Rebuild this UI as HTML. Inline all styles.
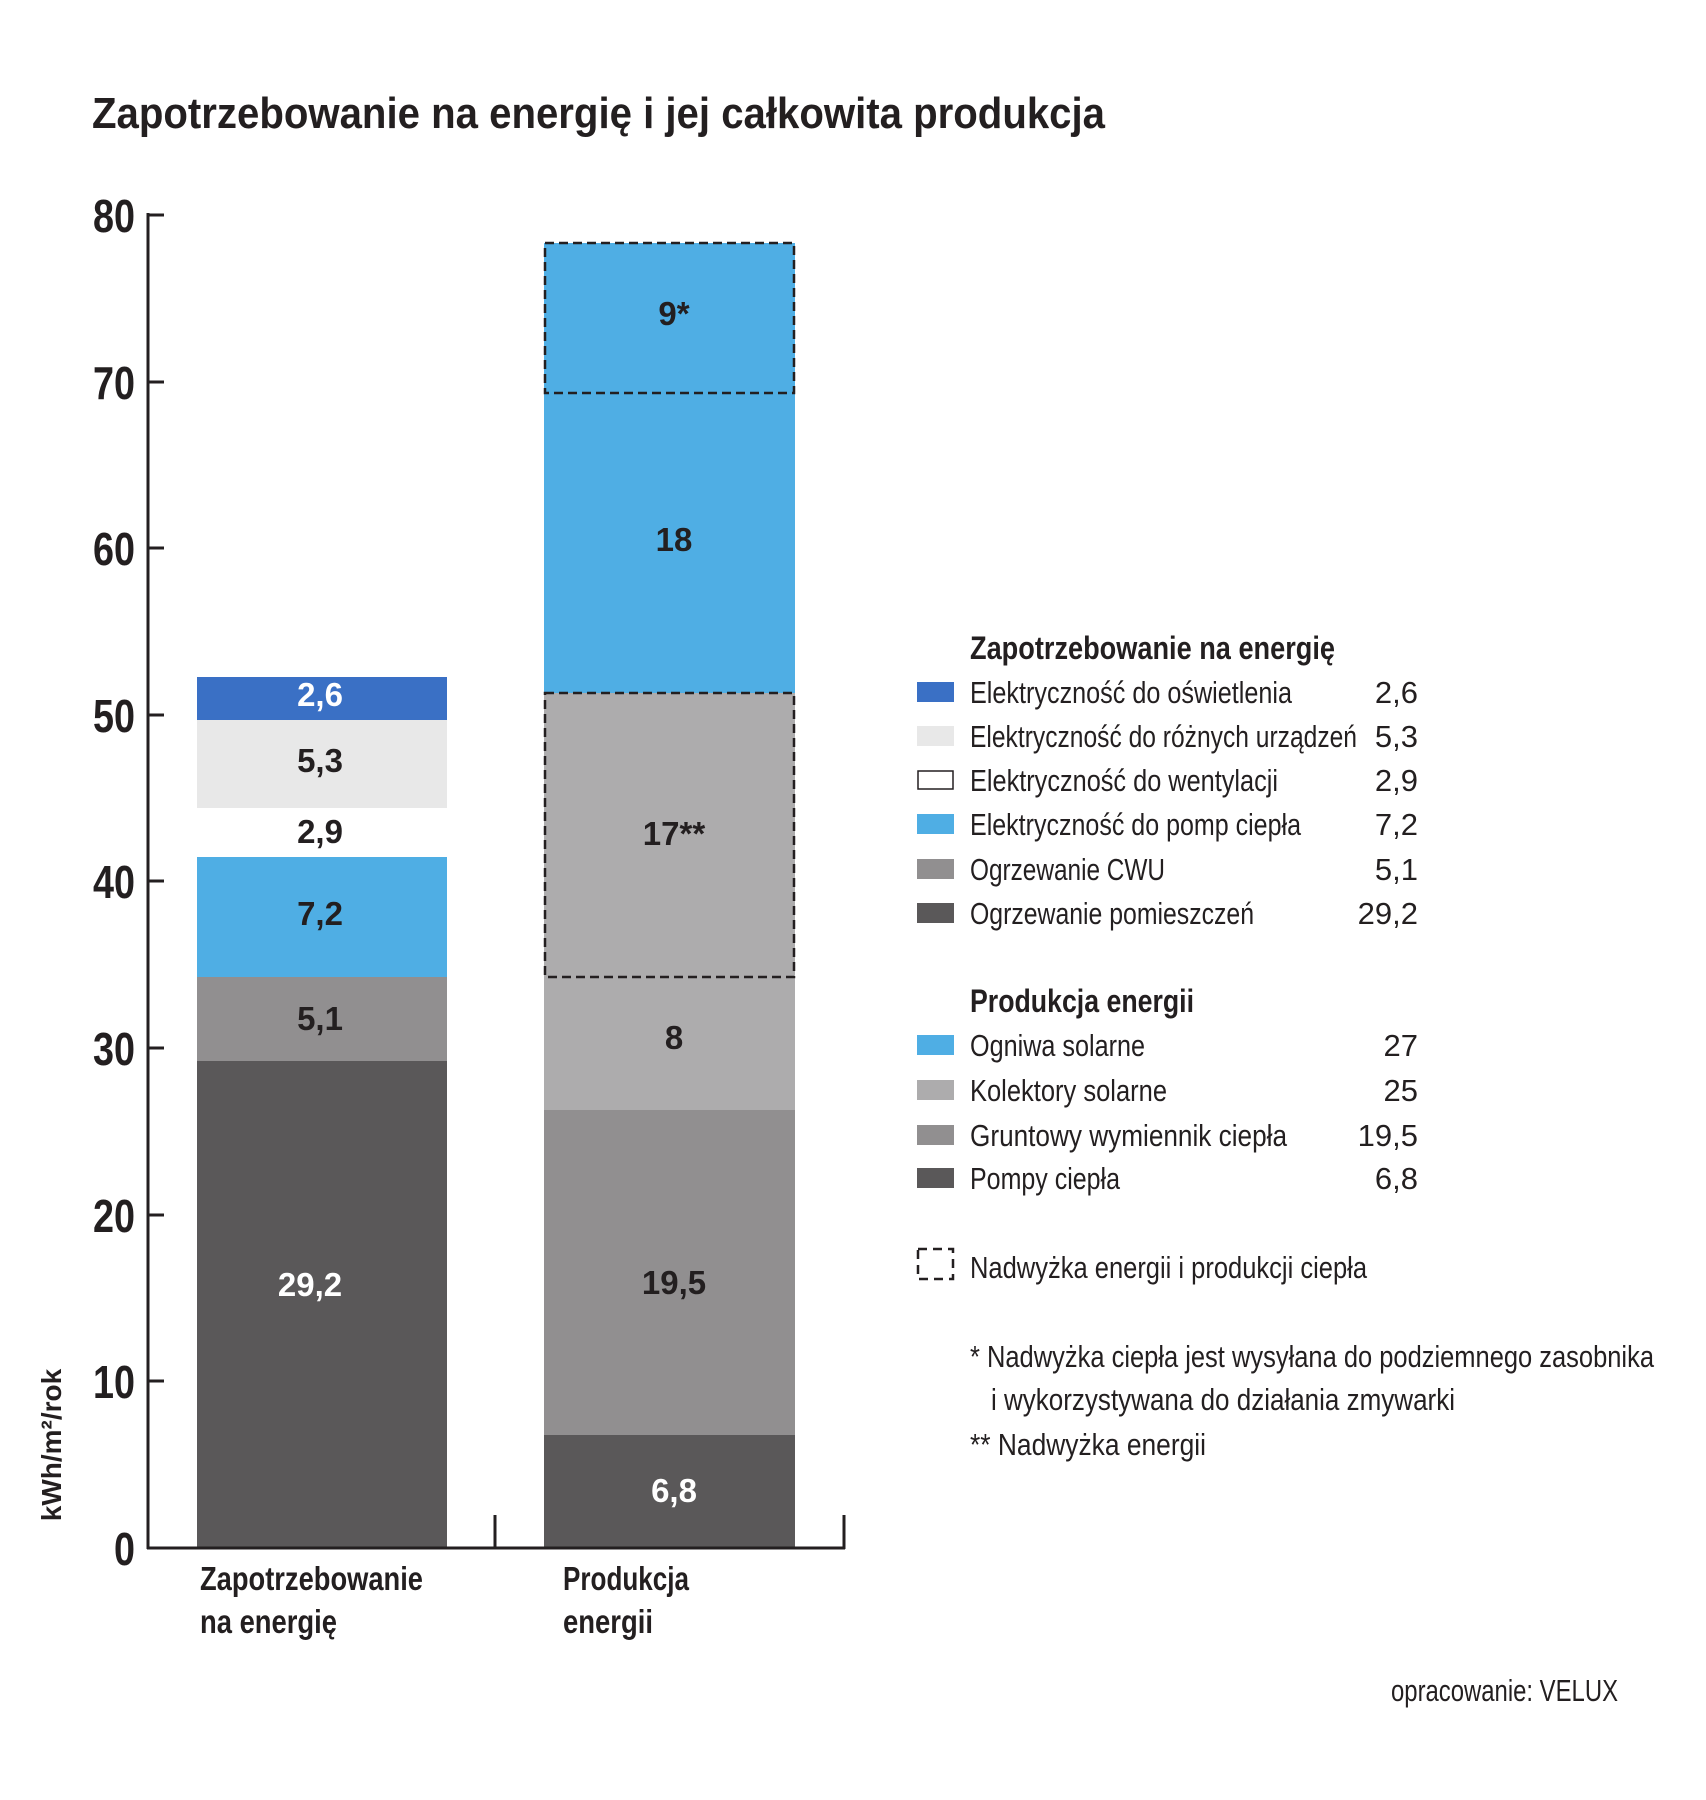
<!DOCTYPE html>
<html><head><meta charset="utf-8"><style>
html,body{margin:0;padding:0;background:#fff;}
svg{display:block;}
text{font-family:"Liberation Sans Narrow","Liberation Sans",sans-serif;fill:#231f20;}
.b{font-weight:bold;}
</style></head><body>
<svg width="1706" height="1800" viewBox="0 0 1706 1800" xmlns="http://www.w3.org/2000/svg">
<text class="b" x="92" y="128" font-size="44" textLength="1013" lengthAdjust="spacingAndGlyphs">Zapotrzebowanie na energię i jej całkowita produkcja</text>

<!-- bars left -->
<rect x="197" y="1061" width="250" height="487" fill="#5a5859"/>
<rect x="197" y="977" width="250" height="84" fill="#918f90"/>
<rect x="197" y="857" width="250" height="120" fill="#4faee4"/>
<rect x="197" y="720" width="250" height="88" fill="#e8e8e8"/>
<rect x="197" y="677" width="250" height="43" fill="#3a70c5"/>
<!-- bars right -->
<rect x="544" y="1435" width="251" height="113" fill="#5a5859"/>
<rect x="544" y="1110" width="251" height="325" fill="#918f90"/>
<rect x="544" y="693" width="251" height="417" fill="#adacad"/>
<rect x="544" y="243" width="251" height="450" fill="#4faee4"/>
<rect x="545" y="243" width="249" height="150" fill="none" stroke="#231f20" stroke-width="2.5" stroke-dasharray="9,5"/>
<rect x="545" y="693" width="249" height="284" fill="none" stroke="#231f20" stroke-width="2.5" stroke-dasharray="9,5"/>

<!-- axes -->
<g stroke="#231f20" stroke-width="3" fill="none">
<line x1="148" y1="213" x2="148" y2="1549"/>
<line x1="147" y1="1548" x2="845" y2="1548"/>
<line x1="495" y1="1515" x2="495" y2="1549"/>
<line x1="844" y1="1515" x2="844" y2="1549"/>
<line x1="147" y1="215" x2="164" y2="215"/>
<line x1="147" y1="382" x2="164" y2="382"/>
<line x1="147" y1="548" x2="164" y2="548"/>
<line x1="147" y1="715" x2="164" y2="715"/>
<line x1="147" y1="881" x2="164" y2="881"/>
<line x1="147" y1="1048" x2="164" y2="1048"/>
<line x1="147" y1="1215" x2="164" y2="1215"/>
<line x1="147" y1="1381" x2="164" y2="1381"/>
</g>
<g font-size="46">
<text class="b" x="93" y="232" textLength="42" lengthAdjust="spacingAndGlyphs">80</text>
<text class="b" x="93" y="399" textLength="42" lengthAdjust="spacingAndGlyphs">70</text>
<text class="b" x="93" y="565" textLength="42" lengthAdjust="spacingAndGlyphs">60</text>
<text class="b" x="93" y="732" textLength="42" lengthAdjust="spacingAndGlyphs">50</text>
<text class="b" x="93" y="898" textLength="42" lengthAdjust="spacingAndGlyphs">40</text>
<text class="b" x="93" y="1065" textLength="42" lengthAdjust="spacingAndGlyphs">30</text>
<text class="b" x="93" y="1232" textLength="42" lengthAdjust="spacingAndGlyphs">20</text>
<text class="b" x="93" y="1398" textLength="42" lengthAdjust="spacingAndGlyphs">10</text>
<text class="b" x="114" y="1565" textLength="21" lengthAdjust="spacingAndGlyphs">0</text>
</g>
<text class="b" font-size="28" text-anchor="middle" transform="translate(61,1445) rotate(-90)">kWh/m²/rok</text>

<!-- bar labels -->
<g class="b" font-size="33" text-anchor="middle">
<text class="b" x="310" y="1296" style="fill:#fff">29,2</text>
<text class="b" x="320" y="1030">5,1</text>
<text class="b" x="320" y="925">7,2</text>
<text class="b" x="320" y="843">2,9</text>
<text class="b" x="320" y="772">5,3</text>
<text class="b" x="320" y="706" style="fill:#fff">2,6</text>
<text class="b" x="674" y="1502" style="fill:#fff">6,8</text>
<text class="b" x="674" y="1294">19,5</text>
<text class="b" x="674" y="1049">8</text>
<text class="b" x="674" y="845">17**</text>
<text class="b" x="674" y="551">18</text>
<text class="b" x="674" y="325">9*</text>
</g>

<!-- categories -->
<g class="b" font-size="33">
<text class="b" x="200" y="1590" textLength="223" lengthAdjust="spacingAndGlyphs">Zapotrzebowanie</text>
<text class="b" x="200" y="1633" textLength="137" lengthAdjust="spacingAndGlyphs">na energię</text>
<text class="b" x="563" y="1590" textLength="126" lengthAdjust="spacingAndGlyphs">Produkcja</text>
<text class="b" x="563" y="1633" textLength="90" lengthAdjust="spacingAndGlyphs">energii</text>
</g>

<!-- legend -->
<text class="b" x="970" y="659" font-size="32" textLength="365" lengthAdjust="spacingAndGlyphs">Zapotrzebowanie na energię</text>
<rect x="917" y="682" width="37" height="20" fill="#3a70c5"/>
<rect x="917" y="726" width="37" height="20" fill="#e8e8e8"/>
<rect x="918" y="771" width="35" height="18" fill="#fff" stroke="#231f20" stroke-width="1.5"/>
<rect x="917" y="814" width="37" height="20" fill="#4faee4"/>
<rect x="917" y="859" width="37" height="20" fill="#918f90"/>
<rect x="917" y="903" width="37" height="20" fill="#5a5859"/>
<g font-size="31">
<text x="970" y="703" textLength="322" lengthAdjust="spacingAndGlyphs">Elektryczność do oświetlenia</text>
<text x="970" y="747" textLength="387" lengthAdjust="spacingAndGlyphs">Elektryczność do różnych urządzeń</text>
<text x="970" y="791" textLength="308" lengthAdjust="spacingAndGlyphs">Elektryczność do wentylacji</text>
<text x="970" y="835" textLength="331" lengthAdjust="spacingAndGlyphs">Elektryczność do pomp ciepła</text>
<text x="970" y="880" textLength="195" lengthAdjust="spacingAndGlyphs">Ogrzewanie CWU</text>
<text x="970" y="924" textLength="284" lengthAdjust="spacingAndGlyphs">Ogrzewanie pomieszczeń</text>
</g>
<g font-size="31" text-anchor="end">
<text x="1418" y="703">2,6</text>
<text x="1418" y="747">5,3</text>
<text x="1418" y="791">2,9</text>
<text x="1418" y="835">7,2</text>
<text x="1418" y="880">5,1</text>
<text x="1418" y="924">29,2</text>
</g>

<text class="b" x="970" y="1012" font-size="32" textLength="224" lengthAdjust="spacingAndGlyphs">Produkcja energii</text>
<rect x="917" y="1035" width="37" height="20" fill="#4faee4"/>
<rect x="917" y="1080" width="37" height="20" fill="#adacad"/>
<rect x="917" y="1125" width="37" height="20" fill="#918f90"/>
<rect x="917" y="1168" width="37" height="20" fill="#5a5859"/>
<g font-size="31">
<text x="970" y="1056" textLength="175" lengthAdjust="spacingAndGlyphs">Ogniwa solarne</text>
<text x="970" y="1101" textLength="197" lengthAdjust="spacingAndGlyphs">Kolektory solarne</text>
<text x="970" y="1146" textLength="317" lengthAdjust="spacingAndGlyphs">Gruntowy wymiennik ciepła</text>
<text x="970" y="1189" textLength="150" lengthAdjust="spacingAndGlyphs">Pompy ciepła</text>
</g>
<g font-size="31" text-anchor="end">
<text x="1418" y="1056">27</text>
<text x="1418" y="1101">25</text>
<text x="1418" y="1146">19,5</text>
<text x="1418" y="1189">6,8</text>
</g>

<rect x="918" y="1249" width="35" height="30" fill="none" stroke="#231f20" stroke-width="2.5" stroke-dasharray="9,6"/>
<text x="970" y="1278" font-size="31" textLength="397" lengthAdjust="spacingAndGlyphs">Nadwyżka energii i produkcji ciepła</text>

<g font-size="31">
<text x="970" y="1367" textLength="684" lengthAdjust="spacingAndGlyphs">* Nadwyżka ciepła jest wysyłana do podziemnego zasobnika</text>
<text x="991" y="1410" textLength="464" lengthAdjust="spacingAndGlyphs">i wykorzystywana do działania zmywarki</text>
<text x="970" y="1455" textLength="236" lengthAdjust="spacingAndGlyphs">** Nadwyżka energii</text>
<text x="1391" y="1701" textLength="227" lengthAdjust="spacingAndGlyphs">opracowanie: VELUX</text>
</g>
</svg>
</body></html>
